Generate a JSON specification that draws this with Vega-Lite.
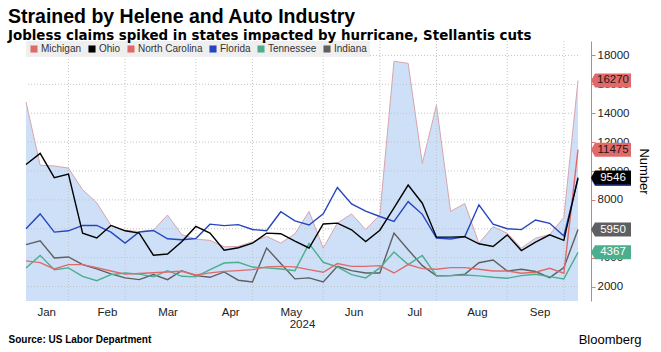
{
  "$schema": "https://vega.github.io/schema/vega-lite/v6.json",
  "width": 552,
  "height": 260,
  "autosize": {"type": "none"},
  "padding": {"left": 26, "top": 41, "right": 83, "bottom": 51},
  "background": "white",
  "config": {
    "view": {"stroke": null},
    "font": "Liberation Sans",
    "legend": {
      "orient": "top-left",
      "offset": 0,
      "direction": "horizontal",
      "fillColor": "#efefef",
      "padding": 3,
      "symbolType": "square",
      "symbolSize": 50,
      "symbolStrokeWidth": 0,
      "labelFont": "Liberation Sans",
      "labelFontSize": 10,
      "labelColor": "#333",
      "columnPadding": 5,
      "labelOffset": 2,
      "title": null
    }
  },
  "title": {
    "text": "Strained by Helene and Auto Industry",
    "subtitle": "Jobless claims spiked in states impacted by hurricane, Stellantis cuts",
    "anchor": "start",
    "frame": "group",
    "dx": -18,
    "offset": -3,
    "fontSize": 19.5,
    "subtitleFontSize": 13.4,
    "fontWeight": "bold",
    "subtitleFontWeight": "bold",
    "font": "Liberation Sans",
    "subtitleFont": "DejaVu Sans",
    "color": "#000",
    "subtitleColor": "#000",
    "subtitlePadding": 2
  },
  "datasets": {
    "wide": [
      {"date": "2024-01-06", "Michigan": 14780, "Ohio": 10450, "North Carolina": 3780, "Florida": 6000, "Tennessee": 3290, "Indiana": 4900},
      {"date": "2024-01-13", "Michigan": 10400, "Ohio": 11220, "North Carolina": 3660, "Florida": 7030, "Tennessee": 4160, "Indiana": 5170},
      {"date": "2024-01-20", "Michigan": 10350, "Ohio": 9540, "North Carolina": 3220, "Florida": 5770, "Tennessee": 3170, "Indiana": 3980},
      {"date": "2024-01-27", "Michigan": 10200, "Ohio": 9790, "North Carolina": 3520, "Florida": 5860, "Tennessee": 3290, "Indiana": 4050},
      {"date": "2024-02-03", "Michigan": 8700, "Ohio": 5700, "North Carolina": 3520, "Florida": 6230, "Tennessee": 2710, "Indiana": 3520},
      {"date": "2024-02-10", "Michigan": 7800, "Ohio": 5360, "North Carolina": 3310, "Florida": 6230, "Tennessee": 2410, "Indiana": 3220},
      {"date": "2024-02-17", "Michigan": 6250, "Ohio": 6230, "North Carolina": 3080, "Florida": 5770, "Tennessee": 2830, "Indiana": 2880},
      {"date": "2024-02-24", "Michigan": 5900, "Ohio": 5860, "North Carolina": 2860, "Florida": 5010, "Tennessee": 2940, "Indiana": 2600},
      {"date": "2024-03-02", "Michigan": 5800, "Ohio": 5700, "North Carolina": 2900, "Florida": 5780, "Tennessee": 2860, "Indiana": 2480},
      {"date": "2024-03-09", "Michigan": 5900, "Ohio": 4170, "North Carolina": 2960, "Florida": 5880, "Tennessee": 2670, "Indiana": 2830},
      {"date": "2024-03-16", "Michigan": 6950, "Ohio": 4250, "North Carolina": 3010, "Florida": 5310, "Tennessee": 3100, "Indiana": 2480},
      {"date": "2024-03-23", "Michigan": 5600, "Ohio": 5100, "North Carolina": 3060, "Florida": 5240, "Tennessee": 2710, "Indiana": 3100},
      {"date": "2024-03-30", "Michigan": 5280, "Ohio": 6160, "North Carolina": 2800, "Florida": 5330, "Tennessee": 2670, "Indiana": 2760},
      {"date": "2024-04-06", "Michigan": 5200, "Ohio": 5700, "North Carolina": 2950, "Florida": 6320, "Tennessee": 3170, "Indiana": 2640},
      {"date": "2024-04-13", "Michigan": 4750, "Ohio": 4520, "North Carolina": 3050, "Florida": 6220, "Tennessee": 3630, "Indiana": 3010},
      {"date": "2024-04-20", "Michigan": 4780, "Ohio": 4690, "North Carolina": 3100, "Florida": 6290, "Tennessee": 3680, "Indiana": 2440},
      {"date": "2024-04-27", "Michigan": 5100, "Ohio": 5000, "North Carolina": 3170, "Florida": 5950, "Tennessee": 3350, "Indiana": 2320},
      {"date": "2024-05-04", "Michigan": 5470, "Ohio": 5700, "North Carolina": 3360, "Florida": 5870, "Tennessee": 3290, "Indiana": 4670},
      {"date": "2024-05-11", "Michigan": 5010, "Ohio": 5660, "North Carolina": 3400, "Florida": 7180, "Tennessee": 3220, "Indiana": 3590},
      {"date": "2024-05-18", "Michigan": 5650, "Ohio": 5150, "North Carolina": 3360, "Florida": 6550, "Tennessee": 3100, "Indiana": 2530},
      {"date": "2024-05-25", "Michigan": 7200, "Ohio": 4670, "North Carolina": 3170, "Florida": 6260, "Tennessee": 4970, "Indiana": 2600},
      {"date": "2024-06-01", "Michigan": 4670, "Ohio": 6330, "North Carolina": 2990, "Florida": 7030, "Tennessee": 3680, "Indiana": 2320},
      {"date": "2024-06-08", "Michigan": 6390, "Ohio": 6390, "North Carolina": 3590, "Florida": 8860, "Tennessee": 3360, "Indiana": 3400},
      {"date": "2024-06-15", "Michigan": 7030, "Ohio": 5930, "North Carolina": 3400, "Florida": 7720, "Tennessee": 2830, "Indiana": 3100},
      {"date": "2024-06-22", "Michigan": 5950, "Ohio": 5120, "North Carolina": 3400, "Florida": 7220, "Tennessee": 2600, "Indiana": 2940},
      {"date": "2024-06-29", "Michigan": 6950, "Ohio": 5900, "North Carolina": 3450, "Florida": 6850, "Tennessee": 3290, "Indiana": 2940},
      {"date": "2024-07-06", "Michigan": 17600, "Ohio": 7450, "North Carolina": 2940, "Florida": 6510, "Tennessee": 4390, "Indiana": 5700},
      {"date": "2024-07-13", "Michigan": 17450, "Ohio": 9030, "North Carolina": 3520, "Florida": 7880, "Tennessee": 3520, "Indiana": 4550},
      {"date": "2024-07-20", "Michigan": 10530, "Ohio": 7770, "North Carolina": 3240, "Florida": 7000, "Tennessee": 4150, "Indiana": 3450},
      {"date": "2024-07-27", "Michigan": 14550, "Ohio": 5420, "North Carolina": 3200, "Florida": 5360, "Tennessee": 2740, "Indiana": 2740},
      {"date": "2024-08-03", "Michigan": 7200, "Ohio": 5420, "North Carolina": 3310, "Florida": 5290, "Tennessee": 2760, "Indiana": 2760},
      {"date": "2024-08-10", "Michigan": 7750, "Ohio": 5450, "North Carolina": 3310, "Florida": 5460, "Tennessee": 2800, "Indiana": 2850},
      {"date": "2024-08-17", "Michigan": 5000, "Ohio": 4960, "North Carolina": 3200, "Florida": 7660, "Tennessee": 2740, "Indiana": 3650},
      {"date": "2024-08-24", "Michigan": 6150, "Ohio": 4770, "North Carolina": 3080, "Florida": 6320, "Tennessee": 2640, "Indiana": 3840},
      {"date": "2024-08-31", "Michigan": 5690, "Ohio": 5580, "North Carolina": 3080, "Florida": 6000, "Tennessee": 2575, "Indiana": 3080},
      {"date": "2024-09-07", "Michigan": 4660, "Ohio": 4490, "North Carolina": 2920, "Florida": 5940, "Tennessee": 2760, "Indiana": 3200},
      {"date": "2024-09-14", "Michigan": 5350, "Ohio": 5070, "North Carolina": 2990, "Florida": 6610, "Tennessee": 2850, "Indiana": 3040},
      {"date": "2024-09-21", "Michigan": 5600, "Ohio": 5580, "North Carolina": 3265, "Florida": 6380, "Tennessee": 2690, "Indiana": 2620},
      {"date": "2024-09-28", "Michigan": 6780, "Ohio": 5200, "North Carolina": 2920, "Florida": 5500, "Tennessee": 2530, "Indiana": 3310},
      {"date": "2024-10-05", "Michigan": 16270, "Ohio": 9546, "North Carolina": 11475, "Florida": 9450, "Tennessee": 4367, "Indiana": 5950}
    ],
    "last": [
      {"date": "2024-10-05", "state": "Florida", "value": 9450},
      {"date": "2024-10-05", "state": "Michigan", "value": 16270},
      {"date": "2024-10-05", "state": "North Carolina", "value": 11475},
      {"date": "2024-10-05", "state": "Tennessee", "value": 4367},
      {"date": "2024-10-05", "state": "Indiana", "value": 5950},
      {"date": "2024-10-05", "state": "Ohio", "value": 9546}
    ],
    "hgrid": [
      {"g": 2000}, {"g": 4000}, {"g": 6000}, {"g": 8000}, {"g": 10000},
      {"g": 12000}, {"g": 14000}, {"g": 16000}, {"g": 18000}
    ],
    "vgrid": [
      {"d": "2024-01-27"}, {"d": "2024-02-24"}, {"d": "2024-03-30"},
      {"d": "2024-04-27"}, {"d": "2024-06-01"}, {"d": "2024-06-29"},
      {"d": "2024-07-27"}, {"d": "2024-08-31"}, {"d": "2024-09-28"}
    ]
  },
  "layer": [
    {
      "data": {"name": "wide"},
      "mark": {"type": "area", "color": "#cde0f8", "opacity": 1, "clip": true},
      "encoding": {
        "x": {
          "field": "date",
          "type": "temporal",
          "scale": {
            "type": "utc",
            "nice": false,
            "domain": [
              {"year": 2024, "month": 1, "date": 6, "utc": true},
              {"year": 2024, "month": 10, "date": 5, "utc": true}
            ]
          },
          "axis": {
            "orient": "bottom",
            "values": [
              {"year": 2024, "month": 1, "date": 16, "utc": true},
              {"year": 2024, "month": 2, "date": 15, "utc": true},
              {"year": 2024, "month": 3, "date": 16, "utc": true},
              {"year": 2024, "month": 4, "date": 16, "utc": true},
              {"year": 2024, "month": 5, "date": 16, "utc": true},
              {"year": 2024, "month": 6, "date": 16, "utc": true},
              {"year": 2024, "month": 7, "date": 16, "utc": true},
              {"year": 2024, "month": 8, "date": 16, "utc": true},
              {"year": 2024, "month": 9, "date": 16, "utc": true}
            ],
            "format": "%b",
            "labelFont": "Liberation Sans",
            "labelFontSize": 11.5,
            "labelColor": "#222",
            "labelPadding": 5,
            "labelOverlap": false,
            "labelFlush": false,
            "ticks": false,
            "domain": false,
            "grid": false,
            "title": "2024",
            "titleFont": "Liberation Sans",
            "titleFontSize": 11.5,
            "titleFontWeight": "normal",
            "titleColor": "#222",
            "titlePadding": 1
          }
        },
        "y": {
          "field": "Michigan",
          "type": "quantitative",
          "scale": {"domain": [1000, 19000], "nice": false, "zero": false},
          "axis": null
        }
      }
    },
    {
      "data": {"name": "wide"},
      "mark": {"type": "line", "color": "#d8a4ac", "strokeWidth": 1},
      "encoding": {
        "x": {"field": "date", "type": "temporal", "axis": null},
        "y": {"field": "Michigan", "type": "quantitative", "axis": null}
      }
    },
    {
      "data": {"name": "hgrid"},
      "mark": {"type": "rule", "color": "#c4c4c4", "strokeDash": [1, 2], "strokeWidth": 1},
      "encoding": {
        "y": {
          "field": "g",
          "type": "quantitative",
          "axis": {
            "orient": "right",
            "offset": 13,
            "values": [2000, 4000, 6000, 8000, 10000, 12000, 14000, 16000, 18000],
            "format": "d",
            "grid": false,
            "domainColor": "#e07a7a",
            "tickColor": "#e07a7a",
            "tickSize": 4,
            "labelPadding": 2,
            "labelFont": "Liberation Sans",
            "labelFontSize": 11.5,
            "labelColor": "#222",
            "title": "Number",
            "titleAngle": 90,
            "titleFont": "Liberation Sans",
            "titleFontSize": 13,
            "titleFontWeight": "normal",
            "titleColor": "#000",
            "titlePadding": 8
          }
        }
      }
    },
    {
      "data": {"name": "vgrid"},
      "mark": {"type": "rule", "color": "#c4c4c4", "strokeDash": [1, 2], "strokeWidth": 1},
      "encoding": {
        "x": {
          "field": "d",
          "type": "temporal",
          "axis": {
            "orient": "bottom",
            "labels": false,
            "ticks": false,
            "domain": false,
            "grid": false,
            "title": "Source: US Labor Department",
            "titleAnchor": "start",
            "titleAlign": "left",
            "titleX": -18,
            "titleY": 41,
            "titleBaseline": "alphabetic",
            "titleFont": "Liberation Sans",
            "titleFontSize": 10,
            "titleFontWeight": "bold",
            "titleColor": "#000"
          }
        }
      }
    },
    {
      "data": {"name": "wide"},
      "transform": [
        {"fold": ["Indiana", "Tennessee", "North Carolina", "Florida", "Ohio"], "as": ["state", "value"]}
      ],
      "mark": {"type": "line", "strokeWidth": 1.4},
      "encoding": {
        "x": {"field": "date", "type": "temporal", "axis": null},
        "y": {"field": "value", "type": "quantitative", "axis": null},
        "color": {
          "field": "state",
          "type": "nominal",
          "scale": {
            "domain": ["Michigan", "Ohio", "North Carolina", "Florida", "Tennessee", "Indiana"],
            "range": ["#e06a6a", "#000000", "#e06a6a", "#2845c0", "#4cae8c", "#5f5f5f"]
          },
          "legend": {}
        }
      }
    },
    {
      "data": {"name": "last"},
      "mark": {
        "type": "point",
        "shape": "M-1,0L-0.8,-0.35L1,-0.35L1,0.35L-0.8,0.35Z",
        "size": 1600,
        "filled": true,
        "opacity": 1,
        "strokeWidth": 0,
        "xOffset": 33
      },
      "encoding": {
        "x": {
          "field": "date",
          "type": "temporal",
          "axis": {
            "orient": "bottom",
            "labels": false,
            "ticks": false,
            "domain": false,
            "grid": false,
            "title": "Bloomberg",
            "titleAnchor": "start",
            "titleAlign": "right",
            "titleX": 615,
            "titleY": 42,
            "titleBaseline": "alphabetic",
            "titleFont": "Liberation Sans",
            "titleFontSize": 13,
            "titleFontWeight": "normal",
            "titleColor": "#000"
          }
        },
        "y": {"field": "value", "type": "quantitative", "axis": null},
        "color": {"field": "state", "type": "nominal"}
      }
    },
    {
      "data": {"name": "last"},
      "transform": [{"filter": "datum.state !== 'Florida'"}],
      "mark": {
        "type": "text",
        "align": "center",
        "baseline": "middle",
        "xOffset": 35,
        "font": "Liberation Sans",
        "fontSize": 11.5
      },
      "encoding": {
        "x": {"field": "date", "type": "temporal", "axis": null},
        "y": {"field": "value", "type": "quantitative", "axis": null},
        "text": {"field": "value", "type": "quantitative", "format": "d"},
        "color": {
          "condition": {"test": "datum.state === 'Michigan' || datum.state === 'North Carolina'", "value": "#2a1515"},
          "value": "#ffffff"
        }
      }
    }
  ],
  "resolve": {"axis": {"x": "independent", "y": "independent"}}
}
